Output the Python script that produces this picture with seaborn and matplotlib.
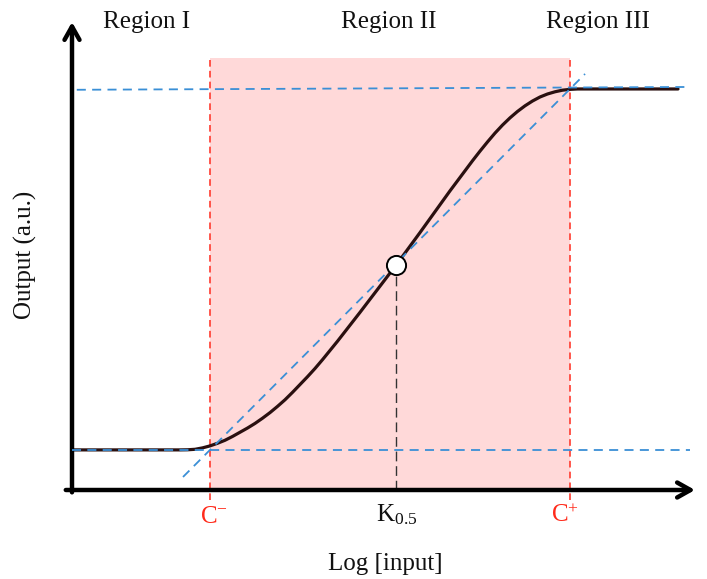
import numpy as np
import pandas as pd
import matplotlib
matplotlib.use("Agg")
import matplotlib.pyplot as plt
import seaborn as sns

# ---- data ----
curve_x = [-0.3, 1.5, 1.625, 1.75, 1.875, 2.0, 2.125, 2.25, 2.375, 2.5, 2.625, 2.75,
           2.875, 3.0, 3.125, 3.25, 3.375, 3.5, 3.625, 3.75, 3.875, 4.0, 4.125, 4.25,
           4.375, 4.5, 4.625, 4.75, 4.875, 5.0, 5.125, 5.25, 5.375, 5.5, 5.625, 5.75,
           5.875, 6.0, 6.125, 6.25, 6.375, 6.5, 6.625, 6.75, 6.875, 7.0, 7.125, 7.25,
           7.375, 7.5, 7.625, 7.75, 7.875, 8.0, 8.125, 8.25, 9.8]
curve_y = [1.0, 1.0, 1.003, 1.015, 1.05, 1.1, 1.165, 1.24, 1.335, 1.44, 1.545, 1.66,
           1.79, 1.93, 2.085, 2.25, 2.435, 2.63, 2.825, 3.03, 3.25, 3.48, 3.71, 3.95,
           4.19, 4.43, 4.675, 4.92, 5.165, 5.41, 5.66, 5.91, 6.165, 6.42, 6.68, 6.94,
           7.2, 7.46, 7.71, 7.96, 8.21, 8.45, 8.68, 8.9, 9.1, 9.28, 9.44, 9.58,
           9.7, 9.8, 9.875, 9.93, 9.97, 9.99, 10.0, 10.0, 10.0]
c_minus, c_plus = 2.0, 8.0
k_half = 5.1
k_half_y = 5.6
low_plateau, high_plateau = 1.0, 10.0
region_labels = ["Region I", "Region II", "Region III"]
region_x = [0.95, 4.98, 8.47]

sns.set_theme(style="white")
plt.rcParams['font.family'] = ['Liberation Serif', 'DejaVu Serif']
plt.rcParams['mathtext.fontset'] = 'custom'
plt.rcParams['mathtext.rm'] = 'Liberation Serif'
plt.rcParams['mathtext.it'] = 'Liberation Serif:italic'

W, H = 707, 579
fig = plt.figure(figsize=(W / 100, H / 100), dpi=100)
ax = fig.add_axes([72 / W, (H - 490) / H, (695 - 72) / W, (490 - 22) / H])
ax.set_xlim(-0.3, 10.083)
ax.set_ylim(0, 11.67)
for s in ax.spines.values():
    s.set_visible(False)
ax.set_xticks([])
ax.set_yticks([])
ax.patch.set_alpha(0)

# shaded region II
shade_top = 10.77
ax.fill_between([c_minus, c_plus], 0, shade_top, color='#ffd9d9', lw=0, zorder=0)

# red dashed boundaries
for cx in (c_minus, c_plus):
    ax.plot([cx, cx], [-0.25, shade_top], color='#ff3b2f', lw=1.2,
            ls=(0, (4, 2.5)), clip_on=False, zorder=2)

blue = '#3a8fd6'
# horizontal plateau guides
ax.plot([-0.22, 10.0], [9.98, 10.05], color=blue, lw=1.3, ls=(0, (5, 3.5)), zorder=4, clip_on=False)
ax.plot([-0.3, 10.0], [low_plateau, low_plateau], color=blue, lw=1.3, ls=(0, (5, 3.5)), zorder=4, clip_on=False)
# tangent through midpoint
slope = (high_plateau - low_plateau) / (c_plus - c_minus)
tx = np.array([1.55, 8.25])
ax.plot(tx, low_plateau + slope * (tx - c_minus), color=blue, lw=1.3,
        ls=(0, (5, 3.5)), zorder=4)

# K0.5 dashed drop line
ax.plot([k_half, k_half], [0, k_half_y], color='#333333', lw=1.0,
        ls=(0, (7, 3.5)), zorder=3)

# dose-response curve
df = pd.DataFrame({"x": curve_x, "y": curve_y})
sns.lineplot(data=df, x="x", y="y", ax=ax, color='#2a1010', lw=2.3, zorder=3,
             sort=False, solid_joinstyle='round', solid_capstyle='round')
ax.set_xlabel("")
ax.set_ylabel("")

# midpoint marker
sns.scatterplot(x=[k_half], y=[k_half_y], ax=ax, s=190, color='white',
                edgecolor='black', linewidth=1.4, zorder=6)

# axes arrows
ax.annotate("", xy=(1.0, 0.0), xytext=(-0.01, 0.0), xycoords='axes fraction',
            arrowprops=dict(arrowstyle='->,head_width=0.45,head_length=0.8',
                            lw=3.2, color='black', shrinkA=0, shrinkB=0))
ax.annotate("", xy=(0.0, 1.0), xytext=(0.0, -0.005), xycoords='axes fraction',
            arrowprops=dict(arrowstyle='->,head_width=0.45,head_length=0.8',
                            lw=3.2, color='black', shrinkA=0, shrinkB=0))

# texts
fs = 18
for lab, rx in zip(region_labels, region_x):
    ax.text(rx, 11.67, lab, ha='center', va='center', fontsize=fs, color='#111111')

ax.text(2.07, -0.68, r'C$^{-}$', ha='center', va='center', fontsize=fs, color='#ff2a1a')
ax.text(7.92, -0.64, r'C$^{+}$', ha='center', va='center', fontsize=fs, color='#ff2a1a')
ax.text(5.12, -0.62, r'K$_{0.5}$', ha='center', va='center', fontsize=fs, color='#111111')
ax.text(4.92, -1.85, 'Log [input]', ha='center', va='center', fontsize=fs, color='#111111')
fig.text(25 / W, 1 - 255 / H, 'Output (a.u.)', rotation=90, ha='center', va='center',
         fontsize=fs, color='#111111')

fig.savefig("out.png", dpi=100)
